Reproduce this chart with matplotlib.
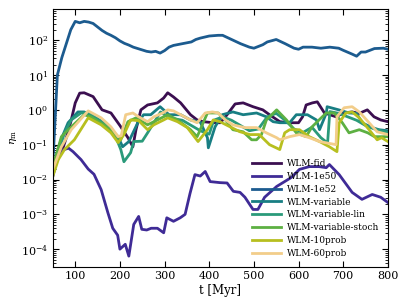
import matplotlib
matplotlib.use("Agg")
import numpy as np
import matplotlib.pyplot as plt

plt.rcParams["font.family"] = "DejaVu Serif"
plt.rcParams["mathtext.fontset"] = "dejavuserif"

# ---------- данные (log10 eta_m) ----------
t_fid = [50, 70, 80, 90, 100, 110, 120, 140, 160, 180, 200, 218, 229, 236, 247, 262, 284, 298, 307,
         320, 336, 358, 373, 387, 409, 425, 440, 458, 476, 498, 520, 535, 558, 580, 600, 609, 617,
         631, 642, 658, 684, 700, 720, 736, 754, 769, 784, 800]
fid = [-1.7, -1.2, -0.8, -0.35, 0.2, 0.48, 0.49, 0.38, 0.0, -0.09, -0.45, -0.8, -1.06, -0.57, 0.0,
       0.14, 0.2, 0.34, 0.49, 0.37, 0.2, -0.14, -0.29, -0.34, -0.37, -0.37, -0.14, 0.17, 0.2, 0.09,
       0.0, -0.14, -0.34, -0.37, -0.37, -0.2, 0.14, 0.2, 0.23, -0.09, -0.2, -0.09, -0.06, -0.1, 0.0,
       -0.2, -0.29, -0.34]

t_1e50 = [50, 60, 73, 85, 95, 113, 129, 142, 158, 173, 184, 195, 200, 212, 220, 231, 242, 249, 260,
          270, 284, 298, 305, 320, 335, 346, 357, 368, 380, 391, 402, 424, 440, 454, 469, 480, 498,
          509, 524, 551, 565, 584, 602, 624, 646, 662, 669, 691, 720, 742, 765, 784, 800]
e1e50 = [-1.9, -1.4, -1.15, -1.1, -1.2, -1.43, -1.7, -1.85, -2.29, -2.95, -3.4, -3.6, -4.0, -3.86,
         -4.2, -3.29, -3.06, -3.43, -3.45, -3.4, -3.4, -3.53, -3.1, -3.2, -3.1, -3.0, -2.4, -1.86,
         -1.9, -1.77, -2.06, -2.09, -2.1, -2.34, -2.37, -2.51, -2.86, -2.86, -2.51, -2.2, -2.09,
         -1.94, -1.71, -1.63, -1.63, -1.66, -1.57, -1.86, -2.37, -2.57, -2.43, -2.51, -2.66]

t_1e52 = [50, 60, 70, 80, 90, 100, 110, 120, 130, 140, 150, 160, 170, 180, 190, 200, 210, 220, 230,
          240, 250, 260, 270, 280, 290, 300, 310, 320, 340, 360, 370, 380, 390, 400, 420, 430, 450,
          470, 490, 500, 520, 530, 550, 570, 590, 600, 610, 630, 650, 670, 690, 700, 720, 730, 740,
          750, 770, 790, 800]
e1e52 = [-1.5, 1.0, 1.5, 1.9, 2.3, 2.54, 2.5, 2.54, 2.52, 2.48, 2.38, 2.28, 2.2, 2.14, 2.07, 1.98,
         1.91, 1.86, 1.8, 1.76, 1.72, 1.68, 1.66, 1.68, 1.63, 1.7, 1.8, 1.85, 1.9, 1.95, 2.02, 2.06,
         2.09, 2.12, 2.14, 2.14, 2.02, 1.9, 1.8, 1.77, 1.87, 1.95, 2.02, 1.9, 1.77, 1.74, 1.8, 1.8,
         1.77, 1.8, 1.77, 1.71, 1.6, 1.54, 1.66, 1.66, 1.76, 1.77, 1.74]

t_var = [50, 60, 70, 84, 106, 120, 142, 164, 196, 206, 220, 240, 253, 269, 290, 310, 336, 358, 380,
         396, 398, 413, 429, 453, 476, 506, 528, 543, 558, 580, 595, 620, 640, 647, 662, 664, 690,
         713, 730, 742, 765, 780, 800]
var = [-1.8, -1.2, -0.8, -0.37, -0.06, -0.06, -0.2, -0.37, -0.77, -1.06, -0.91, -0.37, -0.14, -0.14,
       0.09, -0.14, -0.14, -0.29, -0.35, -0.8, -1.09, -0.49, -0.14, -0.06, -0.14, -0.09, -0.2,
       -0.34, -0.37, -0.37, -0.14, -0.14, -0.29, -0.57, -0.1, 0.09, 0.0, -0.09, -0.1, -0.37, -0.51,
       -0.57, -0.6]

t_lin = [50, 60, 76, 91, 113, 131, 158, 187, 202, 209, 224, 231, 250, 262, 276, 291, 307, 320, 340,
         360, 380, 400, 410, 430, 450, 470, 490, 510, 530, 550, 570, 590, 610, 630, 650, 665, 670,
         690, 710, 730, 750, 770, 800]
lin = [-1.6, -1.3, -0.66, -0.29, -0.09, -0.09, -0.34, -0.66, -1.14, -1.49, -1.23, -0.91, -0.9,
       -0.66, -0.37, -0.06, -0.2, -0.25, -0.3, -0.45, -0.6, -0.7, -0.3, -0.2, -0.3, -0.45, -0.6,
       -0.55, -0.2, -0.1, -0.3, -0.55, -0.65, -0.5, -0.8, -0.95, -0.05, -0.1, -0.2, -0.3, -0.45,
       -0.55, -0.65]

t_stoch = [50, 69, 91, 120, 135, 164, 191, 202, 218, 236, 262, 284, 307, 329, 358, 373, 396, 420,
           436, 453, 476, 495, 506, 517, 528, 551, 573, 595, 617, 630, 662, 680, 698, 713, 736, 755,
           770, 800]
stoch = [-1.63, -0.77, -0.49, -0.14, -0.2, -0.43, -0.71, -0.86, -0.34, -0.23, -0.43, -0.29, -0.14,
         -0.29, -0.57, -0.77, -0.09, -0.09, -0.29, -0.57, -0.63, -0.86, -0.86, -0.71, -0.29, 0.0,
         -0.29, -0.66, -0.77, -0.49, -0.09, -0.09, -0.37, -0.66, -0.57, -0.66, -0.77, -0.77]

t_10p = [50, 62, 76, 98, 129, 158, 180, 196, 209, 224, 242, 262, 276, 298, 307, 329, 351, 375, 396,
         409, 424, 447, 469, 491, 512, 535, 558, 569, 580, 602, 624, 647, 669, 686, 691, 706, 720,
         736, 758, 776, 786, 800]
p10 = [-1.9, -1.43, -1.14, -0.86, -0.23, -0.43, -0.66, -0.94, -0.71, -0.29, -0.31, -0.57, -0.43,
       -0.29, -0.23, -0.34, -0.51, -0.91, -0.57, -0.29, -0.34, -0.49, -0.63, -0.71, -0.71, -1.0,
       -1.14, -0.66, -0.57, -0.57, -0.77, -0.91, -1.06, -1.2, -0.37, -0.09, -0.06, -0.23, -0.57,
       -0.86, -0.8, -0.91]

t_60p = [50, 69, 91, 110, 129, 158, 180, 196, 203, 213, 229, 242, 262, 276, 296, 307, 320, 336,
         358, 373, 391, 407, 420, 436, 453, 480, 506, 528, 551, 558, 580, 602, 624, 647, 684, 686,
         702, 720, 736, 758, 776, 800]
p60 = [-1.7, -1.06, -0.57, -0.3, -0.03, -0.23, -0.49, -0.77, -0.74, -0.14, -0.09, -0.2, -0.34,
       -0.2, -0.09, 0.0, -0.03, -0.14, -0.29, -0.37, -0.09, -0.06, -0.09, -0.29, -0.43, -0.51,
       -0.51, -0.66, -0.8, -0.86, -0.77, -0.71, -0.8, -0.91, -1.0, -0.2, 0.06, 0.09, -0.06, -0.37,
       -0.63, -0.71]

series = [
    ("WLM-fid", t_fid, fid, "#3b0f50"),
    ("WLM-1e50", t_1e50, e1e50, "#3f2b96"),
    ("WLM-1e52", t_1e52, e1e52, "#1c5b8f"),
    ("WLM-variable", t_var, var, "#187e83"),
    ("WLM-variable-lin", t_lin, lin, "#2a9a7a"),
    ("WLM-variable-stoch", t_stoch, stoch, "#5db042"),
    ("WLM-10prob", t_10p, p10, "#b7bf1f"),
    ("WLM-60prob", t_60p, p60, "#f2cd8a"),
]
# --------------------------------------------------------------

fig = plt.figure(figsize=(4.07, 3.05), dpi=100)
ax = fig.add_axes([0.130, 0.126, 0.823, 0.845])

for name, t, v, c in series:
    ax.plot(t, 10.0 ** np.array(v), color=c, lw=2.0, label=name)

ax.set_yscale("log")
ax.set_xlim(50, 800)
ax.set_ylim(10 ** -4.5, 10 ** 2.9)
ax.set_xticks(range(100, 801, 100))
ax.tick_params(which="both", direction="in", top=True, right=True, labelsize=8)
ax.tick_params(which="major", length=4)
ax.tick_params(which="minor", length=2)
ax.set_xlabel("t [Myr]", fontsize=8.5, labelpad=2)
ax.set_ylabel(r"$\eta_{\rm m}$", fontsize=7.5, labelpad=1)

ax.legend(loc="lower right", bbox_to_anchor=(0.984, 0.02), frameon=False, fontsize=6.5,
          labelspacing=0.42, handlelength=3.2, handletextpad=0.66, borderaxespad=0.0)

fig.savefig("out.png", dpi=100)
